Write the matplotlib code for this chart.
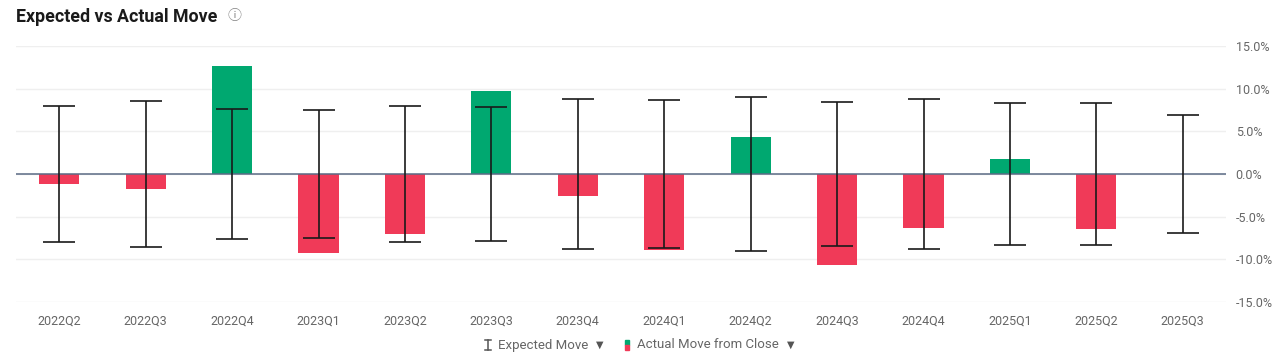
import matplotlib
matplotlib.use("Agg")
import matplotlib.pyplot as plt
from matplotlib.patches import Rectangle
from matplotlib.lines import Line2D
from matplotlib.ticker import FuncFormatter, MultipleLocator

plt.rcParams['font.family'] = ['Roboto', 'DejaVu Sans']

quarters = ["2022Q2", "2022Q3", "2022Q4", "2023Q1", "2023Q2", "2023Q3", "2023Q4",
            "2024Q1", "2024Q2", "2024Q3", "2024Q4", "2025Q1", "2025Q2", "2025Q3"]
actual_move = [-1.2, -1.75, 12.65, -9.25, -7.0, 9.75, -2.55,
               -8.9, 4.35, -10.65, -6.3, 1.75, -6.45, None]
expected_move = [8.0, 8.55, 7.6, 7.5, 8.0, 7.8, 8.8,
                 8.7, 9.05, 8.45, 8.8, 8.3, 8.3, 6.95]

GREEN = "#00a870"
RED = "#f03a58"

W, H = 1276, 359
fig = plt.figure(figsize=(W / 100, H / 100), dpi=100)
ax = fig.add_axes([16 / W, (H - 302) / H, (1226 - 16) / W, 256 / H])

x = list(range(len(quarters)))
for xi, v in zip(x, actual_move):
    if v is None:
        continue
    ax.bar(xi, v, width=0.465, color=GREEN if v >= 0 else RED, zorder=2, linewidth=0)

ax.axhline(0, color="#5b6b85", linewidth=1.1, zorder=3)
ax.errorbar(x, [0] * len(x), yerr=expected_move, fmt="none", ecolor="#1a1a1a",
            elinewidth=1.2, capsize=11.5, capthick=1.2, zorder=4)

ax.set_xlim(-0.5, len(quarters) - 0.5)
ax.set_ylim(-15, 15)
ax.yaxis.set_major_locator(MultipleLocator(5))
ax.yaxis.set_major_formatter(FuncFormatter(lambda v, p: f"{v:.1f}%"))
ax.yaxis.tick_right()
ax.grid(axis="y", color="#efefef", linewidth=1, zorder=0)
ax.set_xticks(x)
ax.set_xticklabels(quarters)
ax.tick_params(axis="both", length=0, labelsize=9, labelcolor="#666666")
ax.tick_params(axis="x", pad=9)
ax.tick_params(axis="y", pad=7)
for s in ax.spines.values():
    s.set_visible(False)

fig.text(16 / W, 1 - 17 / H, "Expected vs Actual Move", fontsize=12.8, fontweight="bold",
         color="#1a1a1a", va="center", ha="left")
fig.text(234 / W, 1 - 16 / H, "ⓘ", fontsize=10, color="#888888", va="center", ha="center",
         family=["Noto Sans CJK SC", "DejaVu Sans"])

# legend
ly = 1 - 345 / H
# expected move icon: I-beam
fig.add_artist(Line2D([488 / W, 488 / W], [(H - 340) / H, (H - 350) / H], color="#555555", lw=1.1))
fig.add_artist(Line2D([485 / W, 491 / W], [(H - 340) / H, (H - 340) / H], color="#555555", lw=1.1))
fig.add_artist(Line2D([485 / W, 491 / W], [(H - 350) / H, (H - 350) / H], color="#555555", lw=1.1))
fig.text(498 / W, ly, "Expected Move", fontsize=9.5, color="#666666", va="center", ha="left")
fig.text(600 / W, ly, "▼", fontsize=7, color="#555555", va="center", ha="center", family=["DejaVu Sans"])
# actual move icon
fig.add_artist(Rectangle((625 / W, (H - 345) / H), 4 / W, 5 / H, color=GREEN, transform=fig.transFigure))
fig.add_artist(Rectangle((625 / W, (H - 350) / H), 4 / W, 5 / H, color=RED, transform=fig.transFigure))
fig.text(637 / W, ly, "Actual Move from Close", fontsize=9.5, color="#666666", va="center", ha="left")
fig.text(791 / W, ly, "▼", fontsize=7, color="#555555", va="center", ha="center", family=["DejaVu Sans"])

fig.savefig("out.png", dpi=100, facecolor="white")
